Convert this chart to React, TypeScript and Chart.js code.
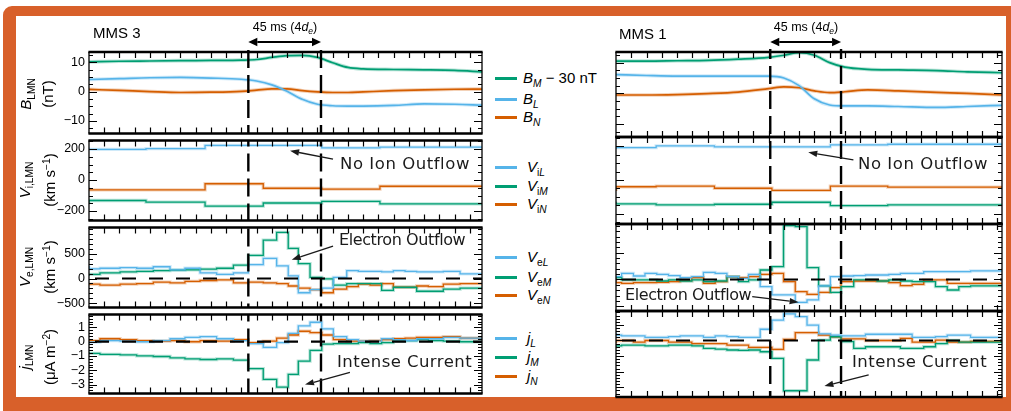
import { useEffect, useRef } from 'react';
import { Chart, registerables } from 'chart.js';

Chart.register(...registerables);

const BLUE = '#56B4E9';
const GREEN = '#009E73';
const ORANGE = '#D55E00';
const FRAME = '#D8602A';
const SANS = '"Liberation Sans", Arial, Helvetica, sans-serif';
const NOTE = '"DejaVu Sans", Verdana, sans-serif';

// ---------------- MMS 3 (time in ms) ----------------
const markersMms3 = [104.6, 152.3];

const bTimesMms3 = [0, 20, 40, 60, 80, 100, 110, 120, 130, 140, 150, 160, 170, 180, 200, 220, 240, 258];
const bMMms3 = [10.1, 10.3, 10.4, 10.5, 10.6, 10.7, 10.9, 11.6, 12.2, 12.3, 11.6, 9.8, 8.2, 7.7, 7.5, 7.4, 7.2, 6.7];
const bLMms3 = [4.1, 4.4, 4.7, 4.8, 4.6, 4.2, 3.6, 2.3, 0.1, -2.6, -4.3, -4.8, -4.9, -4.9, -4.7, -4.2, -4.3, -4.6];
const bNMms3 = [0.75, 0.4, 0.0, -0.3, -0.2, 0.1, 0.5, 0.9, 0.9, 0.3, -0.1, -0.3, -0.3, -0.1, 0.3, 0.6, 0.8, 0.85];

const viEdgesMms3 = [0, 37.4, 76.2, 114.4, 152.8, 191.0, 229.3, 258];
const viLMms3 = [209, 198, 202, 224, 224, 208, 212];
const viMMms3 = [-148, -132, -142, -168, -148, -138, -154];
const viNMms3 = [-49, -63, -63, -24, -53, -59, -40];

const eEdgesMms3 = [0, 7.2, 20.4, 31.3, 42.2, 53.2, 63.0, 72.9, 83.8, 94.8, 104.6, 114.4, 123.2, 130.8, 137.4,
  145.1, 152.8, 160.4, 169.2, 176.8, 184.5, 192.1, 199.8, 207.5, 215.1, 222.8, 232.6, 243.6, 252.3, 258];
const veLMms3 = [258, 196, 208, 221, 208, 239, 177, 208, 115, 84, 115, 283, 407, 258, 53, -289, -227, -196, 22,
  159, 146, 146, 134, 159, 146, 134, 134, 146, 96];
const veMMms3 = [53, 84, 115, 134, 146, 159, 170, 177, 190, 208, 271, 470, 780, 936, 613, 302, 22, -9, -134,
  -103, -103, -103, -239, -177, -177, -258, -258, -215, -196];
const veNMms3 = [-103, -115, -134, -115, -103, -72, -90, -59, -40, -28, -90, -72, -90, -103, -152, -196, -227,
  -289, -215, -165, -115, -134, -103, -177, -177, -152, -165, -115, -103];

const jLMms3 = [-0.14, -0.04, 0.07, 0.03, -0.01, 0.07, 0.2, 0.29, 0.35, 0.2, 0.07, -0.14, -0.4, -0.07, 0.57,
  1.1, 1.35, 0.89, 0.35, 0.14, 0.03, 0.03, 0.2, 0.14, 0.07, 0.2, 0.2, 0.3, 0.24];
const jMMms3 = [-0.72, -0.82, -0.89, -0.93, -0.99, -1.04, -1.14, -1.21, -1.25, -1.21, -1.29, -1.89, -2.64, -3.17,
  -2.28, -1.36, -0.61, -0.18, -0.14, -0.14, -0.07, -0.14, -0.07, 0.03, 0.07, 0.14, 0.07, 0.03, -0.01];
const jNMms3 = [0.14, 0.07, 0.2, 0.14, 0.07, 0.03, 0.07, -0.01, 0.07, 0.03, 0.14, -0.07, 0.03, 0.24, 0.46, 0.72,
  0.63, 0.46, 0.14, 0.03, 0.03, 0.07, 0.14, 0.2, 0.24, 0.29, 0.29, 0.35, 0.24];

// ---------------- MMS 1 (time in ms) ----------------
const markersMms1 = [101.1, 147.5];

const bTimesMms1 = [0, 20, 40, 60, 80, 100, 110, 120, 130, 140, 150, 165, 185, 210, 230, 253];
const bMMms1 = [10.5, 10.5, 10.6, 10.7, 11.1, 11.7, 12.4, 13.2, 12.4, 10.0, 8.5, 7.8, 7.6, 7.4, 7.0, 6.7];
const bLMms1 = [6.1, 5.8, 5.6, 5.6, 5.6, 5.6, 5.0, 2.5, -1.8, -3.8, -4.1, -4.1, -4.3, -4.6, -4.3, -3.9];
const bNMms1 = [-0.55, -0.55, -0.4, -0.1, 0.4, 1.5, 2.1, 1.8, 0.8, 0.2, 0.5, 1.1, 0.8, 0.3, 0.0, -0.55];

const viEdgesMms1 = [0, 26.3, 64.5, 102.2, 140.5, 178.1, 216.4, 253];
const viLMms1 = [184, 192, 202, 196, 196, 208, 212];
const viMMms1 = [-129, -142, -148, -144, -132, -152, -148];
const viNMms1 = [-65, -40, -36, -49, -61, -36, -42];

const eEdgesMms1 = [0, 3.7, 11.4, 19.0, 26.7, 34.4, 42.0, 49.7, 57.3, 65.0, 72.7, 80.3, 86.9, 94.5, 102.2, 109.8,
  117.5, 125.2, 132.8, 140.5, 147.5, 155.8, 163.5, 171.1, 178.8, 186.4, 194.1, 201.7, 209.4, 217.1, 224.7, 232.4,
  240.1, 253];
const veLMms1 = [53, 53, 115, 65, 115, 96, 71, 34, 53, 134, 115, 53, 22, 96, -134, -289, -289, -426, -382, -121,
  53, 65, 71, 84, 84, 96, 115, 115, 146, 146, 146, 146, 159];
const veMMms1 = [34, 34, -9, -9, -9, -28, -9, -28, -9, -40, -28, 53, -40, -9, 177, 239, 1004, 985, 221, -121,
  -241, -134, -9, -9, -28, -9, -28, -40, -40, -134, -196, -134, -121];
const veNMms1 = [22, -59, -72, -59, -59, -53, -40, -22, 34, -72, -40, 53, 34, 53, 96, 115, -40, -227, -277, -241,
  -152, -40, -28, -28, -28, -59, -115, -90, -9, -9, -72, -72, -72];

const jLMms1 = [0.5, 0.35, 0.3, 0.3, 0.2, 0.2, 0.25, 0.3, 0.3, 0.2, 0.3, 0.25, 0.2, 0.2, 0.72, 1.31, 1.7, 1.53,
  0.99, 0.42, 0.35, 0.3, 0.3, 0.4, 0.4, 0.4, 0.4, 0.2, 0.2, 0.25, 0.35, 0.35, 0.2];
const jMMms1 = [-0.5, -0.35, -0.3, -0.3, -0.35, -0.35, -0.3, -0.3, -0.35, -0.5, -0.55, -0.61, -0.63, -0.61,
  -0.72, -1.14, -3.22, -3.22, -1.25, 0.03, 0.24, -0.07, -0.5, -0.4, -0.4, -0.4, -0.5, -0.5, -0.4, -0.2, 0.0,
  -0.1, -0.1];
const jNMms1 = [-0.18, 0.0, 0.0, -0.1, 0.0, 0.0, -0.1, -0.1, -0.2, -0.2, -0.2, -0.3, -0.3, -0.44, -0.44, -0.57,
  0.07, 0.5, 0.5, 0.35, 0.24, 0.1, 0.1, 0.0, 0.0, 0.0, 0.14, -0.1, -0.1, 0.03, -0.1, -0.1, -0.05];

// ---------------- axes ----------------
type Axis = { min: number; max: number; labels: number[]; minor: number };
const B_AXIS: Axis = { min: -14.23, max: 13.45, labels: [-10, 0, 10], minor: 2.5 };
const VI_AXIS: Axis = { min: -261, max: 255, labels: [-200, 0, 200], minor: 50 };
const VE_AXIS: Axis = { min: -588, max: 1035, labels: [-500, 0, 500], minor: 100 };
const J_AXIS: Axis = { min: -3.62, max: 1.89, labels: [-3, -2, -1, 0, 1], minor: 0.2 };

type Pt = { x: number; y: number };
type Series = { color: string; points: Pt[]; stepped: boolean };
type Arrow = { from: [number, number]; to: [number, number] };

const curve = (t: number[], v: number[]): Pt[] => t.map((x, i) => ({ x, y: v[i] }));
const steps = (edges: number[], v: number[]): Pt[] => [
  ...v.map((y, i) => ({ x: edges[i], y })),
  { x: edges[edges.length - 1], y: v[v.length - 1] },
];
const smooth = (color: string, t: number[], v: number[]): Series => ({ color, points: curve(t, v), stepped: false });
const stair = (color: string, e: number[], v: number[]): Series => ({ color, points: steps(e, v), stepped: true });

const COLS = [
  { x: 89, w: 393, xMax: 258 },
  { x: 616, w: 386, xMax: 253 },
];
const ROWS = [
  { top: 52, h: 85 },
  { top: 137, h: 87 },
  { top: 224, h: 87 },
  { top: 311, h: 86 },
];

type PanelDef = {
  col: number;
  row: number;
  axis: Axis;
  series: Series[];
  markers: number[];
  zero?: boolean;
  arrows?: Arrow[];
};

const PANELS: PanelDef[] = [
  {
    col: 0, row: 0, axis: B_AXIS, markers: markersMms3,
    series: [smooth(GREEN, bTimesMms3, bMMms3), smooth(BLUE, bTimesMms3, bLMms3), smooth(ORANGE, bTimesMms3, bNMms3)],
  },
  {
    col: 0, row: 1, axis: VI_AXIS, markers: markersMms3,
    series: [stair(BLUE, viEdgesMms3, viLMms3), stair(GREEN, viEdgesMms3, viMMms3), stair(ORANGE, viEdgesMms3, viNMms3)],
    arrows: [{ from: [160.2, 134.7], to: [132, 188.7] }],
  },
  {
    col: 0, row: 2, axis: VE_AXIS, markers: markersMms3, zero: true,
    series: [stair(BLUE, eEdgesMms3, veLMms3), stair(GREEN, eEdgesMms3, veMMms3), stair(ORANGE, eEdgesMms3, veNMms3)],
    arrows: [{ from: [160.2, 657], to: [133.1, 382] }],
  },
  {
    col: 0, row: 3, axis: J_AXIS, markers: markersMms3, zero: true,
    series: [stair(BLUE, eEdgesMms3, jLMms3), stair(GREEN, eEdgesMms3, jMMms3), stair(ORANGE, eEdgesMms3, jNMms3)],
    arrows: [{ from: [171.3, -2.15], to: [141.8, -3.0] }],
  },
  {
    col: 1, row: 0, axis: B_AXIS, markers: markersMms1,
    series: [smooth(GREEN, bTimesMms1, bMMms1), smooth(BLUE, bTimesMms1, bLMms1), smooth(ORANGE, bTimesMms1, bNMms1)],
  },
  {
    col: 1, row: 1, axis: VI_AXIS, markers: markersMms1,
    series: [stair(BLUE, viEdgesMms1, viLMms1), stair(GREEN, viEdgesMms1, viMMms1), stair(ORANGE, viEdgesMms1, viNMms1)],
    arrows: [{ from: [155.6, 118.7], to: [126, 164.4] }],
  },
  {
    col: 1, row: 2, axis: VE_AXIS, markers: markersMms1, zero: true,
    series: [stair(BLUE, eEdgesMms1, veLMms1), stair(GREEN, eEdgesMms1, veMMms1), stair(ORANGE, eEdgesMms1, veNMms1)],
    arrows: [{ from: [89.3, -321], to: [119.7, -425] }],
  },
  {
    col: 1, row: 3, axis: J_AXIS, markers: markersMms1, zero: true,
    series: [stair(BLUE, eEdgesMms1, jLMms1), stair(GREEN, eEdgesMms1, jMMms1), stair(ORANGE, eEdgesMms1, jNMms1)],
    arrows: [{ from: [165.6, -2.21], to: [136.6, -2.92] }],
  },
];

function withAlpha(hex: string, a: number) {
  const n = parseInt(hex.slice(1), 16);
  return `rgba(${(n >> 16) & 255}, ${(n >> 8) & 255}, ${n & 255}, ${a})`;
}

function arrowHead(ctx: CanvasRenderingContext2D, x1: number, y1: number, x2: number, y2: number, len: number, half: number) {
  const ang = Math.atan2(y2 - y1, x2 - x1);
  const bx = x2 - len * Math.cos(ang);
  const by = y2 - len * Math.sin(ang);
  ctx.beginPath();
  ctx.moveTo(x2, y2);
  ctx.lineTo(bx + half * Math.sin(ang), by - half * Math.cos(ang));
  ctx.lineTo(bx - half * Math.sin(ang), by + half * Math.cos(ang));
  ctx.closePath();
  ctx.fill();
  return [bx, by];
}

function Panel({ def }: { def: PanelDef }) {
  const ref = useRef<HTMLCanvasElement>(null);
  const col = COLS[def.col];
  const row = ROWS[def.row];
  const labels = def.col === 0;
  const span = def.row === 0;
  const padL = labels ? 60 : 8;
  const padR = 8;
  const padT = span ? 20 : 8;
  const padB = 8;
  const cw = col.w + padL + padR;
  const chh = row.h + padT + padB;

  useEffect(() => {
    const canvas = ref.current!;
    const ax = def.axis;
    const deco = {
      id: 'deco',
      afterDatasetsDraw(chart: any) {
        const { ctx, chartArea: a } = chart;
        const xs = chart.scales.x;
        const ys = chart.scales.y;
        ctx.save();
        ctx.strokeStyle = '#000';
        ctx.fillStyle = '#000';
        if (def.zero) {
          const py = ys.getPixelForValue(0);
          ctx.lineWidth = 2.2;
          ctx.setLineDash([14, 13]);
          ctx.lineDashOffset = -6;
          ctx.beginPath();
          ctx.moveTo(a.left, py);
          ctx.lineTo(a.right, py);
          ctx.stroke();
        }
        ctx.lineWidth = 2.4;
        ctx.setLineDash([18, 7]);
        for (const t of def.markers) {
          const px = xs.getPixelForValue(t);
          const y0 = span ? a.top - 3 : a.top;
          ctx.lineDashOffset = row.top + (y0 - a.top) + (def.col === 0 ? 0 : 9);
          ctx.beginPath();
          ctx.moveTo(px, y0);
          ctx.lineTo(px, a.bottom);
          ctx.stroke();
        }
        ctx.setLineDash([]);
        ctx.lineDashOffset = 0;
        // frame
        ctx.lineWidth = 1.3;
        ctx.beginPath();
        ctx.moveTo(a.left, a.top);
        ctx.lineTo(a.left, a.bottom);
        ctx.moveTo(a.right, a.top);
        ctx.lineTo(a.right, a.bottom);
        ctx.stroke();
        ctx.lineWidth = 2.4;
        ctx.beginPath();
        ctx.moveTo(a.left - 0.6, a.top);
        ctx.lineTo(a.right + 0.6, a.top);
        ctx.moveTo(a.left - 0.6, a.bottom);
        ctx.lineTo(a.right + 0.6, a.bottom);
        ctx.stroke();
        // time ticks
        ctx.lineWidth = 1.2;
        ctx.beginPath();
        for (let t = 10; t < col.xMax; t += 10) {
          const px = Math.round(xs.getPixelForValue(t)) + 0.5;
          ctx.moveTo(px, a.top);
          ctx.lineTo(px, a.top + 6);
          ctx.moveTo(px, a.bottom);
          ctx.lineTo(px, a.bottom - 6);
        }
        ctx.stroke();
        // value ticks
        ctx.lineWidth = 1.1;
        ctx.beginPath();
        for (let k = Math.ceil(ax.min / ax.minor); k * ax.minor <= ax.max; k++) {
          const v = k * ax.minor;
          const major = ax.labels.some((l) => Math.abs(l - v) < ax.minor / 10);
          const len = major ? 8 : 4;
          const py = Math.round(ys.getPixelForValue(v)) + 0.5;
          ctx.moveTo(a.left, py);
          ctx.lineTo(a.left + len, py);
          ctx.moveTo(a.right, py);
          ctx.lineTo(a.right - len, py);
        }
        ctx.stroke();
        // annotation arrows
        ctx.strokeStyle = '#1a1a1a';
        ctx.fillStyle = '#1a1a1a';
        for (const ar of def.arrows ?? []) {
          const x1 = xs.getPixelForValue(ar.from[0]);
          const y1 = ys.getPixelForValue(ar.from[1]);
          const x2 = xs.getPixelForValue(ar.to[0]);
          const y2 = ys.getPixelForValue(ar.to[1]);
          const [bx, by] = arrowHead(ctx, x1, y1, x2, y2, 9, 3.2);
          ctx.lineWidth = 1.3;
          ctx.beginPath();
          ctx.moveTo(x1, y1);
          ctx.lineTo(bx, by);
          ctx.stroke();
        }
        // interval arrow above the first row
        if (span) {
          ctx.strokeStyle = '#000';
          ctx.fillStyle = '#000';
          const xa = xs.getPixelForValue(def.markers[0]);
          const xb = xs.getPixelForValue(def.markers[1]);
          const ya = a.top - 10;
          const [b1] = arrowHead(ctx, xb, ya, xa, ya, 9, 4.2);
          const [b2] = arrowHead(ctx, xa, ya, xb, ya, 9, 4.2);
          ctx.lineWidth = 2;
          ctx.beginPath();
          ctx.moveTo(b1, ya);
          ctx.lineTo(b2, ya);
          ctx.stroke();
        }
        ctx.restore();
      },
    };

    const lineW = span ? 1.7 : 1.3;
    const core = def.series.map((s) => ({
      data: s.points,
      borderColor: s.color,
      borderWidth: lineW,
      pointRadius: 0,
      fill: false,
      stepped: s.stepped ? 'after' : false,
      tension: s.stepped ? 0 : 0.4,
      cubicInterpolationMode: s.stepped ? 'default' : 'monotone',
      order: 1,
    }));
    // soft halo underneath each trace
    const halo = core.map((d) => ({ ...d, borderColor: withAlpha(d.borderColor as string, 0.28), borderWidth: lineW + 2, order: 2 }));

    const chart = new Chart(canvas, {
      type: 'line',
      data: { datasets: [...halo, ...core] },
      options: {
        animation: false,
        responsive: false,
        events: [],
        layout: { padding: { left: 0, right: padR, top: padT, bottom: padB } },
        plugins: { legend: { display: false }, tooltip: { enabled: false } },
        scales: {
          x: { type: 'linear', display: false, min: 0, max: col.xMax },
          y: {
            type: 'linear',
            min: ax.min,
            max: ax.max,
            grid: { display: false, drawTicks: false },
            border: { display: false },
            afterBuildTicks: (s: any) => {
              s.ticks = ax.labels.map((v) => ({ value: v }));
            },
            afterFit: (s: any) => {
              s.width = padL;
            },
            ticks: {
              display: labels,
              padding: 4,
              color: '#000',
              font: { family: SANS, size: 12.5 },
              callback: (v: any) => (Number(v) < 0 ? '\u2212' + Math.abs(Number(v)) : String(v)),
            },
          },
        },
      },
      plugins: [deco],
    } as any);
    return () => chart.destroy();
  }, []);

  return (
    <canvas
      ref={ref}
      width={cw}
      height={chh}
      style={{ position: 'absolute', left: col.x - padL, top: row.top - padT, width: cw, height: chh }}
    />
  );
}

const abs = (left: number, top: number): React.CSSProperties => ({ position: 'absolute', left, top, whiteSpace: 'nowrap' });

function YTitle({ cy, first, second }: { cy: number; first: React.ReactNode; second: React.ReactNode }) {
  return (
    <div
      style={{
        position: 'absolute',
        left: 37,
        top: cy,
        transform: 'translate(-50%, -50%) rotate(-90deg)',
        textAlign: 'center',
        fontFamily: SANS,
        fontSize: 15,
        lineHeight: '16px',
        whiteSpace: 'nowrap',
      }}
    >
      <div>{first}</div>
      <div>{second}</div>
    </div>
  );
}

const sub = { fontSize: '0.68em', verticalAlign: '-0.35em' } as React.CSSProperties;
const sup = { fontSize: '0.68em', verticalAlign: '0.5em' } as React.CSSProperties;

function LegendRow({ y, color, x = 523, children }: { y: number; color: string; x?: number; children: React.ReactNode }) {
  return (
    <>
      <div style={{ position: 'absolute', left: 495, top: y - 1.5, width: 22, height: 3, background: color }} />
      <div style={{ ...abs(x, y - 9), fontFamily: SANS, fontSize: 15, lineHeight: '18px' }}>{children}</div>
    </>
  );
}

function Note({ x, y, text, size, spacing }: { x: number; y: number; text: string; size: number; spacing: number }) {
  return (
    <div style={{ ...abs(x, y - 10), fontFamily: NOTE, fontSize: size, letterSpacing: spacing, lineHeight: '20px', color: '#1a1a1a' }}>
      {text}
    </div>
  );
}

function SpanLabel({ cx }: { cx: number }) {
  return (
    <div style={{ ...abs(cx, 20), transform: 'translateX(-50%)', fontFamily: SANS, fontSize: 12.5, lineHeight: '14px' }}>
      45 ms (4<i>d</i>
      <i style={sub}>e</i>)
    </div>
  );
}

export default function App() {
  return (
    <div style={{ position: 'absolute', left: 0, top: 0, width: 1011, height: 411, overflow: 'hidden', background: '#fff' }}>
      <div
        style={{
          position: 'absolute',
          left: 3,
          top: 6,
          width: 1017,
          height: 414,
          boxSizing: 'border-box',
          borderStyle: 'solid',
          borderColor: FRAME,
          borderWidth: '10px 14px 23px 13px',
          borderRadius: '9px 9px 0 0',
        }}
      />
      {PANELS.map((d, i) => (
        <Panel key={i} def={d} />
      ))}

      <div style={{ ...abs(93, 24), fontFamily: SANS, fontSize: 15, lineHeight: '18px' }}>MMS 3</div>
      <div style={{ ...abs(619, 25), fontFamily: SANS, fontSize: 15, lineHeight: '18px' }}>MMS 1</div>
      <SpanLabel cx={285} />
      <SpanLabel cx={806} />

      <YTitle cy={94} first={<><i>B</i><span style={sub}>LMN</span></>} second="(nT)" />
      <YTitle cy={180} first={<><i>V</i><span style={sub}>i,LMN</span></>} second={<>(km s<span style={sup}>−1</span>)</>} />
      <YTitle cy={267} first={<><i>V</i><span style={sub}>e,LMN</span></>} second={<>(km s<span style={sup}>−1</span>)</>} />
      <YTitle cy={357} first={<><i>j</i><span style={sub}>LMN</span></>} second={<>(μA m<span style={sup}>−2</span>)</>} />

      <LegendRow y={78} color={GREEN}><i>B</i><i style={sub}>M</i> − 30 nT</LegendRow>
      <LegendRow y={99} color={BLUE}><i>B</i><i style={sub}>L</i></LegendRow>
      <LegendRow y={117} color={ORANGE}><i>B</i><i style={sub}>N</i></LegendRow>

      <LegendRow y={167} color={BLUE} x={527}><i>V</i><span style={sub}>i<i>L</i></span></LegendRow>
      <LegendRow y={186} color={GREEN} x={527}><i>V</i><span style={sub}>i<i>M</i></span></LegendRow>
      <LegendRow y={204} color={ORANGE} x={527}><i>V</i><span style={sub}>i<i>N</i></span></LegendRow>

      <LegendRow y={257} color={BLUE} x={527}><i>V</i><span style={sub}>e<i>L</i></span></LegendRow>
      <LegendRow y={277} color={GREEN} x={527}><i>V</i><span style={sub}>e<i>M</i></span></LegendRow>
      <LegendRow y={295} color={ORANGE} x={527}><i>V</i><span style={sub}>e<i>N</i></span></LegendRow>

      <LegendRow y={338} color={BLUE} x={527}><i>j</i><i style={sub}>L</i></LegendRow>
      <LegendRow y={357} color={GREEN} x={527}><i>j</i><i style={sub}>M</i></LegendRow>
      <LegendRow y={376} color={ORANGE} x={527}><i>j</i><i style={sub}>N</i></LegendRow>

      <Note x={340} y={164} text="No Ion Outflow" size={16.5} spacing={0.55} />
      <Note x={858} y={164} text="No Ion Outflow" size={16.5} spacing={0.55} />
      <Note x={339} y={240} text="Electron Outflow" size={16} spacing={-0.4} />
      <Note x={625} y={295} text="Electron Outflow" size={16} spacing={-0.4} />
      <Note x={337} y={362} text="Intense Current" size={16.5} spacing={0.45} />
      <Note x={852} y={362} text="Intense Current" size={16.5} spacing={0.45} />
    </div>
  );
}
